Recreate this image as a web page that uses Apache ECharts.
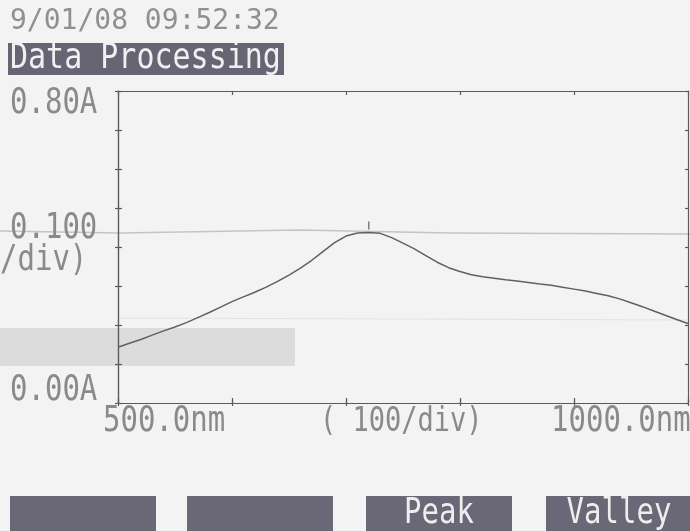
<!DOCTYPE html>
<html>
<head>
<meta charset="utf-8">
<script src="https://cdn.jsdelivr.net/npm/echarts@6/dist/echarts.min.js"></script>
<style>
  html, body { margin: 0; padding: 0; background: #f3f3f3; }
  #chart { width: 690px; height: 531px; }
</style>
</head>
<body>
<div id="chart"></div>
<script>
// wavelength (nm) and absorbance (A)
const wavelength = [500, 510, 520, 530, 540, 550, 560, 570, 580, 590,
  600, 610, 620, 630, 640, 650, 660, 670, 680, 690,
  700, 710, 720, 730, 740, 750, 760, 770, 780, 790,
  800, 810, 820, 830, 840, 850, 860, 870, 880, 890,
  900, 910, 920, 930, 940, 950, 960, 970, 980, 990, 1000];
const absorbance = [0.143, 0.153, 0.163, 0.174, 0.185, 0.195, 0.206, 0.219, 0.232, 0.246,
  0.260, 0.272, 0.284, 0.297, 0.312, 0.328, 0.346, 0.366, 0.389, 0.411,
  0.428, 0.436, 0.437, 0.435, 0.424, 0.410, 0.395, 0.378, 0.361, 0.347,
  0.337, 0.329, 0.324, 0.320, 0.316, 0.313, 0.309, 0.305, 0.302, 0.297,
  0.292, 0.287, 0.281, 0.275, 0.267, 0.257, 0.247, 0.236, 0.225, 0.214, 0.204];
const peakMark = [[720, 0.455]];
const buttonLabels = ["", "", "Peak", "Valley"];

const mono = "DejaVu Sans Mono";
const ink = "#5a5a5a";
const printText = "#8a8a8a";

const myChart = echarts.init(document.getElementById("chart"));

const axisBase = (extra) => Object.assign({
  type: "value",
  splitLine: { show: false },
  axisLabel: { show: false },
  axisLine: { show: true, lineStyle: { color: ink, width: 1.2 } }
}, extra);
const tick = (inside, len) => ({ show: true, inside: inside, length: len, lineStyle: { color: ink, width: 1.2 } });

const xCommon = { min: 500, max: 1000, interval: 100 };
const yCommon = { min: 0, max: 0.8, interval: 0.1 };

// printed texts (tall narrow dot-matrix font -> stretch vertically)
const texts = [
  { x: 10, y: 22, t: "9/01/08 09:52:32", c: "#909090", s: 28, k: 1.0 },
  { x: 10, y: 104, t: "0.80A", c: printText, s: 29, k: 1.25 },
  { x: 10, y: 229, t: "0.100", c: printText, s: 29, k: 1.25 },
  { x: 0, y: 261, t: "/div)", c: printText, s: 29, k: 1.25 },
  { x: 10, y: 391, t: "0.00A", c: printText, s: 29, k: 1.25 },
  { x: 103, y: 422, t: "500.0nm", c: printText, s: 29, k: 1.25 },
  { x: 320, y: 422, t: "( 100/div)", c: printText, s: 27, k: 1.25 },
  { x: 551, y: 422, t: "1000.0nm", c: printText, s: 29, k: 1.25 }
];

const graphic = [
  { type: "rect", z: 0, shape: { x: 0, y: 328, width: 295, height: 38 }, style: { fill: "#dcdcdc" } },
  { type: "polyline", z: 0, shape: { points: [[0, 231], [120, 233], [300, 230], [450, 233], [690, 234]] }, style: { stroke: "#c4c4c4", lineWidth: 1.5 } },
  { type: "line", z: 0, shape: { x1: 118, y1: 318, x2: 690, y2: 320 }, style: { stroke: "#e2e2e2", lineWidth: 1 } },
  { type: "rect", z: 0, shape: { x: 8, y: 43, width: 276, height: 32 }, style: { fill: "#676473" } },
  { type: "text", z: 1, x: 10, y: 59, scaleY: 1.2, style: { x: 0, y: 0, text: "Data Processing", fill: "#f0f0f0", font: "30px '" + mono + "'", textVerticalAlign: "middle" } }
];
texts.forEach((d) => {
  graphic.push({ type: "text", z: 1, x: d.x, y: d.y, scaleY: d.k, style: { x: 0, y: 0, text: d.t, fill: d.c, font: d.s + "px '" + mono + "'", textVerticalAlign: "middle" } });
});
const btnX = [10, 187, 366, 546];
buttonLabels.forEach((lab, i) => {
  graphic.push({ type: "rect", z: 0, shape: { x: btnX[i], y: 496, width: 146, height: 35 }, style: { fill: "#6a6776" } });
  if (lab) {
    graphic.push({ type: "text", z: 1, x: btnX[i] + 73, y: 514, scaleY: 1.25, style: { x: 0, y: 0, text: lab, fill: "#eeeeee", font: "29px '" + mono + "'", textAlign: "center", textVerticalAlign: "middle" } });
  }
});

const option = {
  backgroundColor: "#f3f3f3",
  animation: false,
  grid: { left: 118, right: 2, top: 91, bottom: 128 },
  xAxis: [
    axisBase(Object.assign({ position: "bottom", axisTick: tick(false, 3) }, xCommon)),
    axisBase(Object.assign({ position: "bottom", axisTick: tick(true, 5) }, xCommon)),
    axisBase(Object.assign({ position: "top", axisTick: tick(false, 3) }, xCommon)),
    axisBase(Object.assign({ position: "top", axisTick: tick(true, 4) }, xCommon))
  ],
  yAxis: [
    axisBase(Object.assign({ position: "left", axisTick: tick(false, 3) }, yCommon)),
    axisBase(Object.assign({ position: "left", axisTick: tick(true, 4) }, yCommon)),
    axisBase(Object.assign({ position: "right", axisTick: tick(true, 3) }, yCommon))
  ],
  graphic: graphic,
  series: [
    {
      type: "line",
      xAxisIndex: 0,
      yAxisIndex: 0,
      data: wavelength.map((w, i) => [w, absorbance[i]]),
      showSymbol: false,
      lineStyle: { color: "#606060", width: 1.5 },
      z: 5
    },
    {
      type: "scatter",
      xAxisIndex: 0,
      yAxisIndex: 0,
      data: peakMark,
      symbol: "rect",
      symbolSize: [1.5, 8],
      itemStyle: { color: "#606060" },
      z: 5
    }
  ]
};
myChart.setOption(option);
</script>
</body>
</html>
